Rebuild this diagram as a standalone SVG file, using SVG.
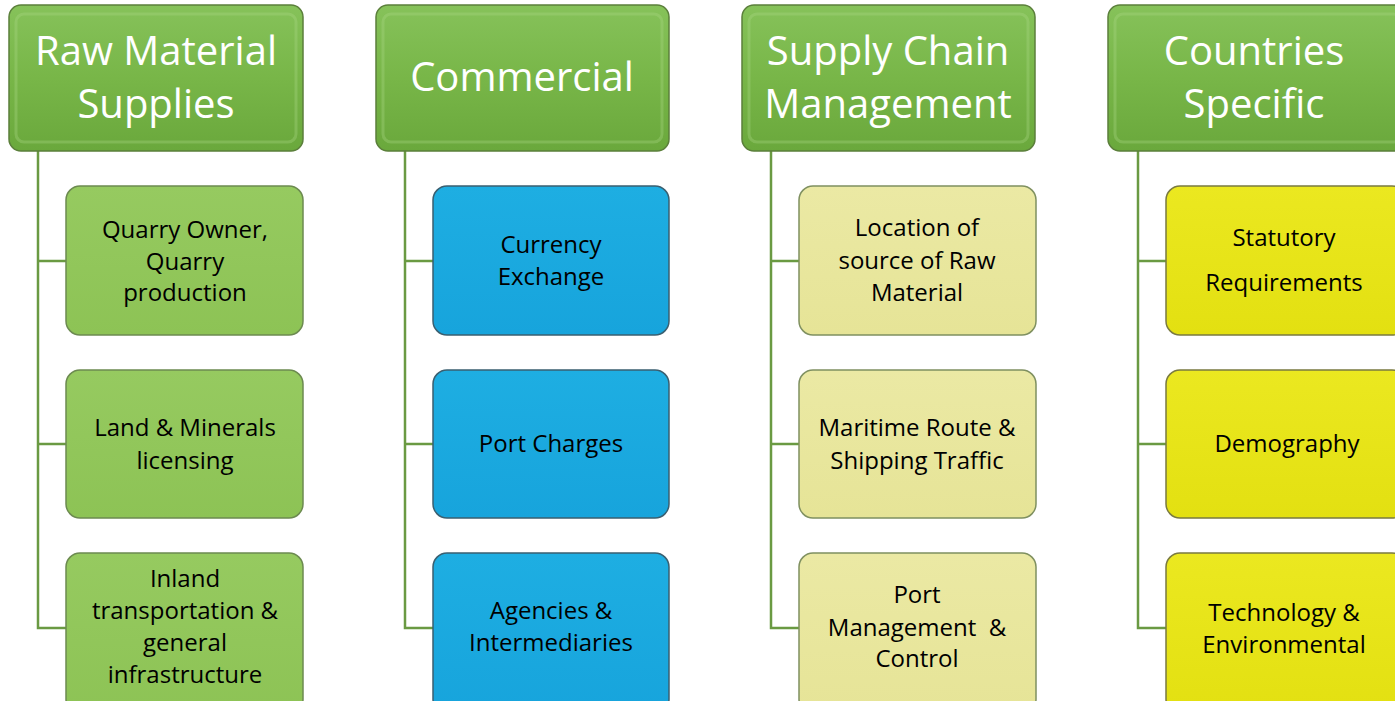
<svg xmlns="http://www.w3.org/2000/svg" width="1395" height="701" viewBox="0 0 1395 701">
<defs>
<linearGradient id="gHead" x1="0" y1="0" x2="0" y2="1">
<stop offset="0" stop-color="#86c25a"/>
<stop offset="0.5" stop-color="#78b648"/>
<stop offset="1" stop-color="#6aa83c"/>
</linearGradient>
<linearGradient id="gGreen" x1="0" y1="0" x2="0" y2="1">
<stop offset="0" stop-color="#96ca60"/>
<stop offset="1" stop-color="#8dc355"/>
</linearGradient>
<linearGradient id="gBlue" x1="0" y1="0" x2="0" y2="1">
<stop offset="0" stop-color="#1eaee2"/>
<stop offset="1" stop-color="#17a4dc"/>
</linearGradient>
<linearGradient id="gPale" x1="0" y1="0" x2="0" y2="1">
<stop offset="0" stop-color="#ebe9a4"/>
<stop offset="1" stop-color="#e6e497"/>
</linearGradient>
<linearGradient id="gYel" x1="0" y1="0" x2="0" y2="1">
<stop offset="0" stop-color="#ebe820"/>
<stop offset="1" stop-color="#e3e011"/>
</linearGradient>
</defs>
<style>
.head{fill:url(#gHead);stroke:#5b7f3b;stroke-width:1.5}
.hi{fill:none;stroke:#a8d884;stroke-width:3;opacity:0.35}
.green{fill:url(#gGreen);stroke:#6c8a50;stroke-width:1.5}
.blue{fill:url(#gBlue);stroke:#3a5f70;stroke-width:1.5}
.pale{fill:url(#gPale);stroke:#7f9060;stroke-width:1.5}
.yel{fill:url(#gYel);stroke:#7a7a40;stroke-width:1.5}
.ht{font-family:"Open Sans","Liberation Sans",sans-serif;font-size:40px;fill:#ffffff;text-anchor:middle}
.ct{font-family:"Open Sans","Liberation Sans",sans-serif;font-size:24px;fill:#000000;text-anchor:middle}
.conn{fill:none;stroke:#6a9a42;stroke-width:2.5}
</style>
<g id="connectors">
<path class="conn" d="M38 151 V628 H66 M38 261 H66 M38 444 H66"/>
<path class="conn" d="M405 151 V628 H433 M405 261 H433 M405 444 H433"/>
<path class="conn" d="M771 151 V628 H799 M771 261 H799 M771 444 H799"/>
<path class="conn" d="M1138 151 V628 H1166 M1138 261 H1166 M1138 444 H1166"/>
</g>
<g id="h1"><rect class="head" x="9" y="5" width="294" height="146" rx="12"/><rect class="hi" x="16" y="14" width="280" height="128" rx="8"/>
<text class="ht" x="156" y="65">Raw Material</text><text class="ht" x="156" y="118">Supplies</text></g>
<g id="h2"><rect class="head" x="376" y="5" width="293" height="146" rx="12"/><rect class="hi" x="383" y="14" width="279" height="128" rx="8"/>
<text class="ht" x="522" y="91">Commercial</text></g>
<g id="h3"><rect class="head" x="742" y="5" width="293" height="146" rx="12"/><rect class="hi" x="749" y="14" width="279" height="128" rx="8"/>
<text class="ht" x="888" y="65">Supply Chain</text><text class="ht" x="888" y="118">Management</text></g>
<g id="h4"><rect class="head" x="1108" y="5" width="300" height="146" rx="12"/><rect class="hi" x="1115" y="14" width="286" height="128" rx="8"/>
<text class="ht" x="1254" y="65">Countries</text><text class="ht" x="1254" y="118">Specific</text></g>

<g id="c1a"><rect class="green" x="66" y="186" width="237" height="149" rx="14"/>
<text class="ct" x="185" y="238">Quarry Owner,</text><text class="ct" x="185" y="270">Quarry</text><text class="ct" x="185" y="301">production</text></g>
<g id="c1b"><rect class="green" x="66" y="370" width="237" height="148" rx="14"/>
<text class="ct" x="185" y="436">Land &amp; Minerals</text><text class="ct" x="185" y="469">licensing</text></g>
<g id="c1c"><rect class="green" x="66" y="553" width="237" height="160" rx="14"/>
<text class="ct" x="185" y="587">Inland</text><text class="ct" x="185" y="619">transportation &amp;</text><text class="ct" x="185" y="651">general</text><text class="ct" x="185" y="683">infrastructure</text></g>

<g id="c2a"><rect class="blue" x="433" y="186" width="236" height="149" rx="14"/>
<text class="ct" x="551" y="253">Currency</text><text class="ct" x="551" y="285">Exchange</text></g>
<g id="c2b"><rect class="blue" x="433" y="370" width="236" height="148" rx="14"/>
<text class="ct" x="551" y="452">Port Charges</text></g>
<g id="c2c"><rect class="blue" x="433" y="553" width="236" height="160" rx="14"/>
<text class="ct" x="551" y="619">Agencies &amp;</text><text class="ct" x="551" y="651">Intermediaries</text></g>

<g id="c3a"><rect class="pale" x="799" y="186" width="237" height="149" rx="14"/>
<text class="ct" x="917" y="236">Location of</text><text class="ct" x="917" y="269">source of Raw</text><text class="ct" x="917" y="301">Material</text></g>
<g id="c3b"><rect class="pale" x="799" y="370" width="237" height="148" rx="14"/>
<text class="ct" x="917" y="436">Maritime Route &amp;</text><text class="ct" x="917" y="469">Shipping Traffic</text></g>
<g id="c3c"><rect class="pale" x="799" y="553" width="237" height="160" rx="14"/>
<text class="ct" x="917" y="603">Port</text><text class="ct" x="917" y="636" xml:space="preserve">Management  &amp;</text><text class="ct" x="917" y="667">Control</text></g>

<g id="c4a"><rect class="yel" x="1166" y="186" width="240" height="149" rx="14"/>
<text class="ct" x="1284" y="246">Statutory</text><text class="ct" x="1284" y="291">Requirements</text></g>
<g id="c4b"><rect class="yel" x="1166" y="370" width="240" height="148" rx="14"/>
<text class="ct" x="1287" y="452">Demography</text></g>
<g id="c4c"><rect class="yel" x="1166" y="553" width="240" height="160" rx="14"/>
<text class="ct" x="1284" y="621">Technology &amp;</text><text class="ct" x="1284" y="653">Environmental</text></g>
</svg>
